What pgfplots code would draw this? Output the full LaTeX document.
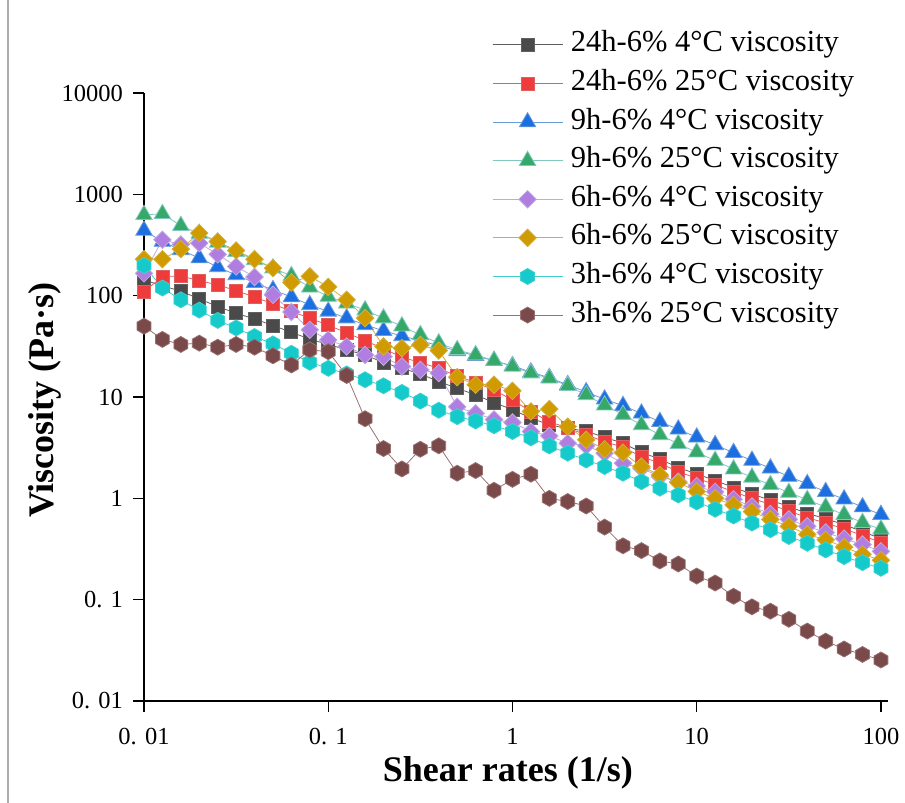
\documentclass[border=0pt]{standalone}
\usepackage{fontspec}
\setmainfont{Liberation Serif}
\usepackage{pgfplots}
\pgfplotsset{compat=1.18}
\usepackage{pgfplotstable}
\usetikzlibrary{plotmarks}

\pgfdeclareplotmark{hexagon*}{%
  \pgfpathmoveto{\pgfqpoint{0pt}{\pgfplotmarksize}}%
  \pgfpathlineto{\pgfqpoint{0.866\pgfplotmarksize}{0.5\pgfplotmarksize}}%
  \pgfpathlineto{\pgfqpoint{0.866\pgfplotmarksize}{-0.5\pgfplotmarksize}}%
  \pgfpathlineto{\pgfqpoint{0pt}{-\pgfplotmarksize}}%
  \pgfpathlineto{\pgfqpoint{-0.866\pgfplotmarksize}{-0.5\pgfplotmarksize}}%
  \pgfpathlineto{\pgfqpoint{-0.866\pgfplotmarksize}{0.5\pgfplotmarksize}}%
  \pgfpathclose
  \pgfusepathqfillstroke
}

\definecolor{cA}{HTML}{4A4A4A}
\definecolor{cB}{HTML}{EE3B3B}
\definecolor{cC}{HTML}{1C6FE0}
\definecolor{cD}{HTML}{35A86A}
\definecolor{cE}{HTML}{B07EE0}
\definecolor{cF}{HTML}{CF9B00}
\definecolor{cG}{HTML}{14CACA}
\definecolor{cH}{HTML}{7A4A4A}
\definecolor{lA}{HTML}{606060}
\definecolor{lB}{HTML}{E06060}
\definecolor{lC}{HTML}{6A9AD8}
\definecolor{lD}{HTML}{80C8C0}
\definecolor{lE}{HTML}{C0A8E0}
\definecolor{lF}{HTML}{D0B040}
\definecolor{lG}{HTML}{40D0D0}
\definecolor{lH}{HTML}{9A7070}

\pgfplotstableread{
x a b c d e f g h
0.01 143 110 440 628 166 229 198 50
0.012589 125 154 342 642 356 229 119 37
0.015849 111 157 283 490 320 288 91 33
0.019953 93 140 235 410 330 414 72 34
0.025119 78 128 192 335 256 342 57 31
0.031623 67 112 160 272 194 279 48 33
0.039811 59 97 134 225 153 229 39.5 31
0.050119 50.7 83 114 187 102 187 33.4 25.5
0.063096 43.6 70 97 157 69 135 27 20.7
0.079433 37.2 60 81 121 46 155 22 29.2
0.1 33 51 70 98 36.6 122 19.2 28
0.12589 29.2 43 60 84 31.5 91 16.9 16.3
0.15849 26 36 51.5 72 26 60 14.8 6.1
0.19953 21.9 30 45 60 25 31.5 12.9 3.1
0.25119 19.2 24.7 40 50 20 30.3 11.1 1.95
0.31623 16.9 21.9 36 41 18.5 32.7 9.1 3.05
0.39811 14.2 19.2 32 34 17.2 28.7 7.4 3.3
0.50119 12.2 16.1 28.5 29.2 8.0 15.7 6.4 1.77
0.63096 10.5 13.9 25.5 26 6.9 13.2 5.8 1.88
0.79433 8.8 11.7 22.8 22.9 6.0 13.2 5.2 1.2
1 7.5 9.35 20.3 20 5.6 11.5 4.56 1.54
1.2589 6.2 7.2 17.6 17.2 4.56 7.2 3.95 1.73
1.5849 5.3 5.7 15.5 15.3 4.13 7.6 3.29 1.0
1.9953 4.9 4.95 13.2 12.9 3.5 5.1 2.79 0.93
2.5119 4.6 4.23 11.2 10.5 3.3 3.78 2.39 0.84
3.1623 4.0 3.63 9.5 8.3 2.79 3.05 2.06 0.52
3.9811 3.5 3.19 8.2 6.7 2.22 2.82 1.77 0.34
5.0119 2.84 2.58 6.9 5.3 1.98 2.06 1.46 0.305
6.3096 2.44 2.22 5.7 4.23 1.64 1.7 1.26 0.241
7.9433 2.01 1.83 4.8 3.45 1.46 1.43 1.08 0.225
10 1.74 1.58 4.0 2.85 1.32 1.17 0.92 0.171
12.589 1.5 1.36 3.37 2.36 1.16 1.0 0.78 0.146
15.849 1.28 1.16 2.82 1.94 0.98 0.86 0.67 0.108
19.953 1.1 1.0 2.36 1.61 0.83 0.74 0.57 0.085
25.119 0.96 0.87 1.98 1.36 0.70 0.62 0.49 0.077
31.623 0.83 0.75 1.64 1.14 0.62 0.53 0.42 0.064
39.811 0.71 0.645 1.39 0.97 0.53 0.44 0.36 0.049
50.119 0.63 0.57 1.16 0.82 0.46 0.39 0.31 0.039
63.096 0.55 0.5 0.98 0.69 0.40 0.33 0.266 0.0326
79.433 0.47 0.43 0.82 0.575 0.35 0.28 0.232 0.0288
100 0.40 0.366 0.69 0.495 0.30 0.245 0.204 0.0254
}\datatable

\begin{document}
\begin{tikzpicture}[x=1pt,y=1pt]
\useasboundingbox (0,0) rectangle (905,803);
\draw[gray!65, line width=1.5pt] (8,0) -- (8,803);
\begin{axis}[
  at={(144pt,102pt)}, anchor=south west,
  scale only axis, width=744pt, height=608pt,
  xmode=log, ymode=log,
  xmin=0.01, xmax=109.2, ymin=0.01, ymax=10000,
  axis x line=bottom, axis y line=left,
  axis line style={-, line width=1.4pt, black},
  xtick={0.01,0.1,1,10,100},
  xticklabels={0. 01,0. 1,1,10,100},
  ytick={0.01,0.1,1,10,100,1000,10000},
  yticklabels={0. 01,0. 1,1,10,100,1000,10000},
  xminorticks=false, yminorticks=false,
  tick align=outside, major tick length=11pt,
  major tick style={line width=1.4pt, black},
  xticklabel style={font=\fontsize{24.5}{29}\selectfont, inner sep=0pt, yshift=-16pt},
  yticklabel style={font=\fontsize{24.5}{29}\selectfont, inner sep=0pt, xshift=-10pt},
  xlabel={Shear rates (1/s)},
  ylabel={Viscosity (Pa·s)},
  xlabel style={font=\fontsize{36}{42}\selectfont\bfseries, at={(axis description cs:0.489,-0.1184)}, anchor=center},
  ylabel style={font=\fontsize{36}{42}\selectfont\bfseries, at={(axis description cs:-0.133,0.495)}, anchor=center},
  clip=false,
  legend cell align=left,
  legend image code/.code={\draw[mark repeat=2,mark phase=2,#1] plot coordinates {(0pt,0pt) (35pt,0pt) (70pt,0pt)};},
  legend style={at={(axis description cs:0.4677,1.1025)}, anchor=north west, draw=none, fill=none,
    inner sep=0pt, row sep=10.6pt, column sep=0pt,
    font=\fontsize{30.5}{36}\selectfont,
    nodes={inner xsep=8pt, inner ysep=0pt, text height=21pt, text depth=7pt}},
]
\addplot[color=lA, line width=0.8pt, mark=square*, mark size=6.5pt, mark options={draw=none, fill=cA, solid}] table[x=x,y=a]{\datatable};
\addlegendentry{24h-6\% 4°C viscosity}
\addplot[color=lB, line width=0.8pt, mark=square*, mark size=6.5pt, mark options={draw=none, fill=cB, solid}] table[x=x,y=b]{\datatable};
\addlegendentry{24h-6\% 25°C viscosity}
\addplot[color=lC, line width=0.8pt, mark=triangle*, mark size=9.5pt, mark options={draw=none, fill=cC, solid}] table[x=x,y=c]{\datatable};
\addlegendentry{9h-6\% 4°C viscosity}
\addplot[color=lD, line width=0.8pt, mark=triangle*, mark size=9.5pt, mark options={draw=none, fill=cD, solid}] table[x=x,y=d]{\datatable};
\addlegendentry{9h-6\% 25°C viscosity}
\addplot[color=lE, line width=0.8pt, mark=square*, mark size=6.2pt, mark options={draw=none, fill=cE, solid, rotate=45}] table[x=x,y=e]{\datatable};
\addlegendentry{6h-6\% 4°C viscosity}
\addplot[color=lF, line width=0.8pt, mark=square*, mark size=6.2pt, mark options={draw=none, fill=cF, solid, rotate=45}] table[x=x,y=f]{\datatable};
\addlegendentry{6h-6\% 25°C viscosity}
\addplot[color=lG, line width=0.8pt, mark=hexagon*, mark size=8pt, mark options={draw=none, fill=cG, solid}] table[x=x,y=g]{\datatable};
\addlegendentry{3h-6\% 4°C viscosity}
\addplot[color=lH, line width=0.8pt, mark=hexagon*, mark size=8pt, mark options={draw=none, fill=cH, solid}] table[x=x,y=h]{\datatable};
\addlegendentry{3h-6\% 25°C viscosity}
\end{axis}
\end{tikzpicture}
\end{document}
